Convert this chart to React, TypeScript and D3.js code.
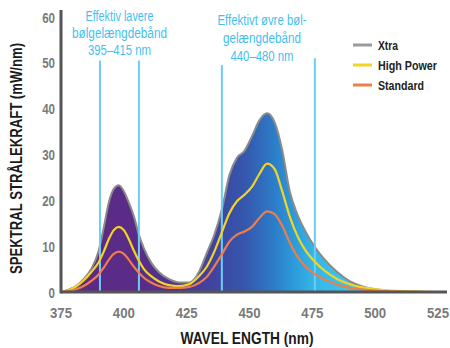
import React from "react";
import * as d3 from "d3";

// wavelength grid (nm) and the three spectra (mW/nm)
const waves = [375, 378, 381, 384, 387, 390, 392, 394, 396, 398, 400, 402, 404, 406, 408, 411, 414, 418, 422, 426,
  430, 433, 436, 439, 442, 445, 448, 451, 454, 457, 460, 463, 466, 469, 472, 476, 480, 485, 490, 495, 500, 505, 510, 515, 520, 525];
const xtra = [0, 0.5, 1.3, 2.8, 5, 9, 14, 19.5, 22.5, 23.3, 22, 19.5, 16.5, 12.5, 9.5, 6.3, 4.3, 2.8, 2.1, 2.1,
  4.5, 8.5, 12.5, 18, 25.5, 29.3, 30.8, 34, 37.5, 39, 37, 31, 22, 17, 13.5, 9.8, 7, 4.3, 2.3, 1.2, 0.6, 0.3, 0.1, 0, 0, 0];
const highPower = [0, 0.4, 1.2, 2.5, 4.3, 6.5, 8.8, 11.5, 13.5, 14.2, 13.5, 11.5, 9, 6.8, 5, 3.4, 2.3, 1.5, 1.3, 1.7,
  3.5, 5.5, 8.8, 13, 17.2, 19.8, 21.2, 23, 25.8, 28, 26.8, 22, 16.5, 12.3, 9.3, 6.6, 4.6, 2.8, 1.7, 1, 0.6, 0.35, 0.2, 0.1, 0.05, 0];
const standard = [0, 0.2, 0.6, 1.3, 2.4, 3.8, 5.3, 7, 8.3, 8.8, 8.3, 7, 5.5, 4.2, 3.1, 2, 1.3, 0.9, 0.9, 1.1,
  2, 3.3, 5.6, 8.2, 11, 12.5, 13.2, 14.2, 16.2, 17.6, 17, 14.5, 10.8, 7.8, 5.7, 3.9, 2.7, 1.6, 0.9, 0.5, 0.3, 0.15, 0.08, 0.04, 0, 0];

const xTicks = [375, 400, 425, 450, 475, 500, 525];
const yTicks = [0, 10, 20, 30, 40, 50, 60];

// blue band markers: wavelength and how high they reach
const bandWaves = [390.5, 406, 439, 476];
const bandTops = [50.5, 50.5, 49.5, 51];

const leftNote = ["Effektiv lavere", "bølgelængdebånd", "395–415 nm"];
const rightNote = ["Effektivt øvre bøl-", "gelængdebånd", "440–480 nm"];

const legendNames = ["Xtra", "High Power", "Standard"];
const legendColors = ["#9a9a9a", "#f3d324", "#ef7d48"];

// fill colour along the spectrum
const gradWaves = [375, 405, 425, 438, 448, 458, 467, 476, 490];
const gradColors = ["#5a2a85", "#5a2b88", "#4c3894", "#3d47a1", "#3557ad", "#2d76c4", "#2c98d8", "#35b7e9", "#3dc5ef"];

const W = 450, H = 348;
const font = "'Liberation Sans', Arial, sans-serif";

export default function App() {
  const x = d3.scaleLinear().domain([375, 525]).range([61, 438]);
  const y = d3.scaleLinear().domain([0, 60]).range([292, 17]);

  const line = d3.line<number>()
    .x((d, i) => x(waves[i]))
    .y(d => y(d))
    .curve(d3.curveMonotoneX);
  const area = d3.area<number>()
    .x((d, i) => x(waves[i]))
    .y0(y(0))
    .y1(d => y(d))
    .curve(d3.curveMonotoneX);

  const [x0, x1] = x.domain();
  // widths the texts have in the picture (its face is condensed)
  const noteW = [[68, 95, 63], [89, 78, 63]];
  const legendW = [20, 59, 46];

  return (
    <svg width={W} height={H} style={{position: "absolute", left: 0, top: 0, background: "#fff"}}>
      <defs>
        <linearGradient id="spec" gradientUnits="userSpaceOnUse" x1={x(x0)} x2={x(x1)} y1={0} y2={0}>
          {gradWaves.map((w, i) => (
            <stop key={i} offset={(w - x0) / (x1 - x0)} stopColor={gradColors[i]} />
          ))}
        </linearGradient>
        <filter id="soft" x="-5%" y="-5%" width="110%" height="110%">
          <feGaussianBlur stdDeviation="0.7" />
        </filter>
      </defs>

      {/* Xtra area with gray rim */}
      <path d={area(xtra) || ""} fill="url(#spec)" />
      <path d={line(xtra) || ""} fill="none" stroke="#8a8a8a" strokeWidth={2} filter="url(#soft)" />

      {/* band markers */}
      {bandWaves.map((w, i) => (
        <line key={i} x1={x(w)} x2={x(w)} y1={y(bandTops[i])} y2={y(0)} stroke="#6ccdf3" strokeWidth={2} />
      ))}

      <path d={line(highPower) || ""} fill="none" stroke={legendColors[1]} strokeWidth={2.2} />
      <path d={line(standard) || ""} fill="none" stroke={legendColors[2]} strokeWidth={2.2} />

      {/* axes */}
      <line x1={61} x2={61} y1={10} y2={y(0) + 1.5} stroke="#555" strokeWidth={3} />
      <line x1={61} x2={447} y1={y(0)} y2={y(0)} stroke="#555" strokeWidth={3} />

      {yTicks.map(t => (
        <text key={t} x={55} y={y(t) + 5.5} textAnchor="end" fontFamily={font} fontWeight="bold" fontSize={14}
          fill="#7a7a7a" textLength={String(t).length * 6.4} lengthAdjust="spacingAndGlyphs">{t}</text>
      ))}
      {xTicks.map(t => (
        <text key={t} x={x(t)} y={318} textAnchor="middle" fontFamily={font} fontWeight="bold" fontSize={14}
          fill="#7a7a7a" textLength={22} lengthAdjust="spacingAndGlyphs">{t}</text>
      ))}

      <text x={247} y={344} textAnchor="middle" fontFamily={font} fontWeight="bold" fontSize={16} fill="#1a1a1a"
        textLength={133} lengthAdjust="spacingAndGlyphs">WAVEL ENGTH (nm)</text>
      <text transform="translate(22,158.5) rotate(-90)" textAnchor="middle" fontFamily={font} fontWeight="bold" fontSize={16}
        fill="#1a1a1a" textLength={231} lengthAdjust="spacingAndGlyphs">SPEKTRAL STRÅLEKRAFT (mW/nm)</text>

      {/* band annotations */}
      <g fontFamily={font} fontSize={14} fill="#46bfee" textAnchor="middle">
        {leftNote.map((s, i) => (
          <text key={s} x={119.5} y={21 + i * 17} textLength={noteW[0][i]} lengthAdjust="spacingAndGlyphs">{s}</text>
        ))}
        {rightNote.map((s, i) => (
          <text key={s} x={262} y={25 + i * 18} textLength={noteW[1][i]} lengthAdjust="spacingAndGlyphs">{s}</text>
        ))}
      </g>

      {/* legend */}
      {legendNames.map((n, i) => (
        <g key={n} transform={`translate(353,${45 + i * 20})`}>
          <line x1={0} x2={19} y1={0} y2={0} stroke={legendColors[i]} strokeWidth={3} />
          <text x={25} y={5} fontFamily={font} fontWeight="bold" fontSize={13} fill="#222"
            textLength={legendW[i]} lengthAdjust="spacingAndGlyphs">{n}</text>
        </g>
      ))}
    </svg>
  );
}
